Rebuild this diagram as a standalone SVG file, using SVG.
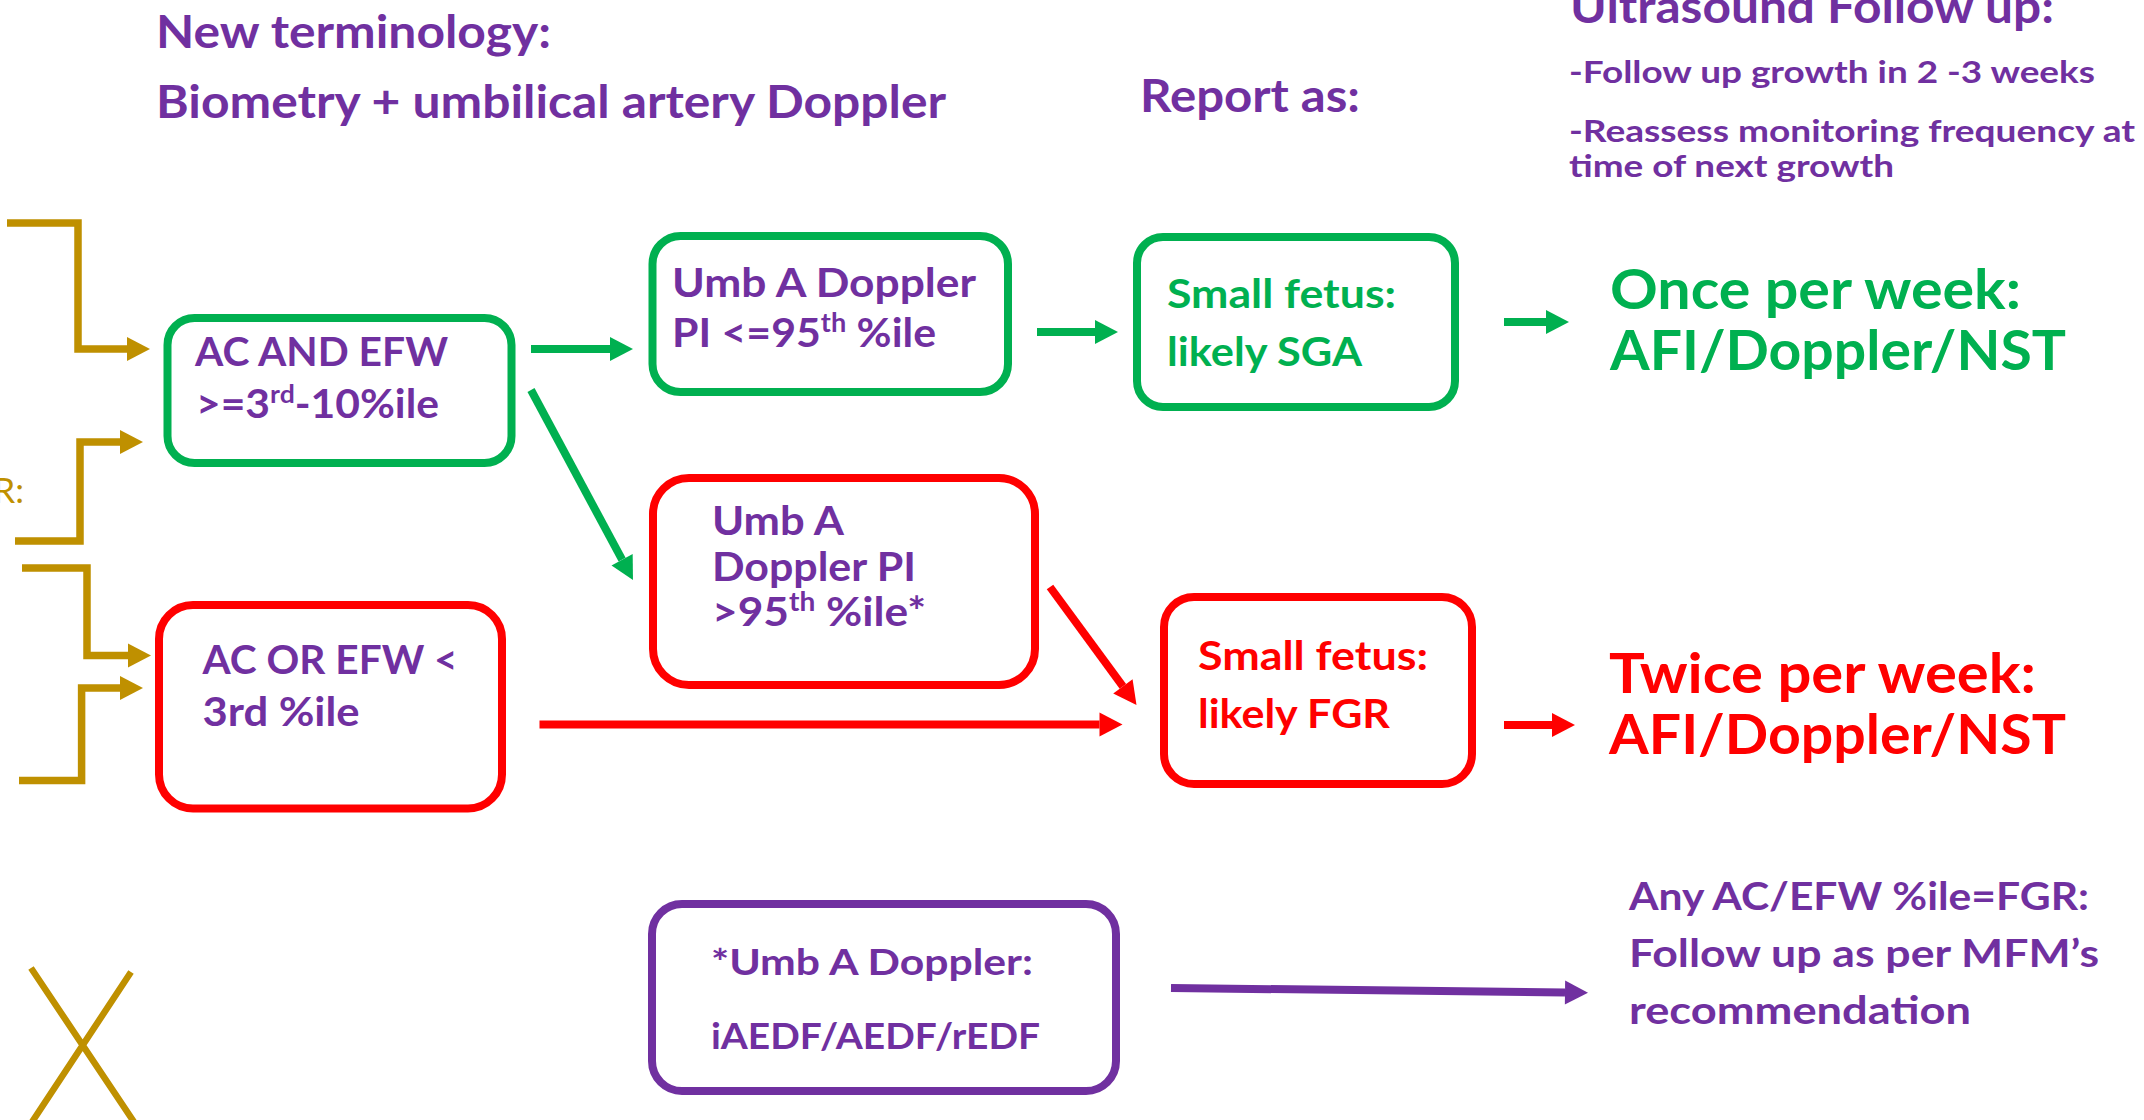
<svg xmlns="http://www.w3.org/2000/svg" width="2144" height="1120" viewBox="0 0 2144 1120">
<defs>
<style>
text{font-family:Lato,"Open Sans","Liberation Sans",sans-serif;font-weight:700}
.p{fill:#7030A0}.g{fill:#00B050}.r{fill:#FF0000}
.box{fill:#fff;stroke-width:8}
.bg{stroke:#00B050}.br{stroke:#FF0000}.bp{stroke:#7030A0}
.ln{fill:none;stroke-width:8}
.gold{fill:none;stroke:#BF9000;stroke-width:7.5;stroke-linejoin:miter}
</style>
<marker id="ag" markerUnits="userSpaceOnUse" markerWidth="24" markerHeight="24" refX="0" refY="12" orient="auto" overflow="visible"><path d="M0,0 L23,12 L0,24 Z" fill="#00B050"/></marker>
<marker id="ar" markerUnits="userSpaceOnUse" markerWidth="24" markerHeight="24" refX="0" refY="12" orient="auto" overflow="visible"><path d="M0,0 L23,12 L0,24 Z" fill="#FF0000"/></marker>
<marker id="ap" markerUnits="userSpaceOnUse" markerWidth="24" markerHeight="24" refX="0" refY="12" orient="auto" overflow="visible"><path d="M0,0 L23,12 L0,24 Z" fill="#7030A0"/></marker>
<marker id="ay" markerUnits="userSpaceOnUse" markerWidth="24" markerHeight="24" refX="0" refY="12" orient="auto" overflow="visible"><path d="M0,0 L23,12 L0,24 Z" fill="#BF9000"/></marker>
</defs>
<rect width="2144" height="1120" fill="#fff"/>

<g id="headers">
<text class="p" x="156" y="48" font-size="46" textLength="395" lengthAdjust="spacingAndGlyphs">New terminology:</text>
<text class="p" x="156" y="118" font-size="46" textLength="790" lengthAdjust="spacingAndGlyphs">Biometry + umbilical artery Doppler</text>
<text class="p" x="1140" y="112" font-size="46" textLength="220" lengthAdjust="spacingAndGlyphs">Report as:</text>
<text class="p" x="1570" y="23" font-size="46" textLength="484" lengthAdjust="spacingAndGlyphs">Ultrasound Follow up:</text>
<text class="p" x="1569" y="83" font-size="30" textLength="526" lengthAdjust="spacingAndGlyphs">-Follow up growth in 2 -3 weeks</text>
<text class="p" x="1569" y="142" font-size="30" textLength="566" lengthAdjust="spacingAndGlyphs">-Reassess monitoring frequency at</text>
<text class="p" x="1569" y="177" font-size="30" textLength="325" lengthAdjust="spacingAndGlyphs">time of next growth</text>
</g>

<g id="inputs">
<path class="gold" d="M7,223 H78 V349 H127" marker-end="url(#ay)"/>
<path class="gold" d="M15,541 H80 V442 H120" marker-end="url(#ay)"/>
<path class="gold" d="M22,568 H87 V655.5 H128" marker-end="url(#ay)"/>
<path class="gold" d="M19,780.5 H81.6 V688 H120" marker-end="url(#ay)"/>
<text x="24" y="503" font-size="35" font-weight="400" fill="#BF9000" text-anchor="end" style="font-weight:400">R:</text>
<path d="M31,968 L134,1122 M131,972 L32,1122" stroke="#BF9000" stroke-width="6.5" fill="none"/>
</g>

<g id="node-ac-and-efw">
<rect class="box bg" x="167.5" y="318" width="344" height="145" rx="27"/>
<text class="p" x="195" y="366" font-size="40" textLength="253" lengthAdjust="spacingAndGlyphs">AC AND EFW</text>
<text class="p" x="196" y="418" font-size="40" textLength="243" lengthAdjust="spacingAndGlyphs">&gt;=3<tspan font-size="25" dy="-15">rd</tspan><tspan dy="15">-10%ile</tspan></text>
</g>

<g id="node-ac-or-efw">
<rect class="box br" x="159" y="605" width="343" height="203.5" rx="34"/>
<text class="p" x="202.5" y="674" font-size="40" textLength="255" lengthAdjust="spacingAndGlyphs">AC OR EFW &lt;</text>
<text class="p" x="202.5" y="726" font-size="40" textLength="157" lengthAdjust="spacingAndGlyphs">3rd %ile</text>
</g>

<g id="node-doppler-normal">
<rect class="box bg" x="652.5" y="236" width="355.5" height="156" rx="28"/>
<text class="p" x="672" y="297" font-size="41" textLength="304" lengthAdjust="spacingAndGlyphs">Umb A Doppler</text>
<text class="p" x="672" y="347" font-size="41" textLength="264" lengthAdjust="spacingAndGlyphs">PI &lt;=95<tspan font-size="26" dy="-15">th</tspan><tspan dy="15"> %ile</tspan></text>
</g>

<g id="node-sga">
<rect class="box bg" x="1137" y="237" width="318" height="170" rx="26"/>
<text class="g" x="1167" y="308" font-size="41" textLength="229" lengthAdjust="spacingAndGlyphs">Small fetus:</text>
<text class="g" x="1167" y="366" font-size="41" textLength="195" lengthAdjust="spacingAndGlyphs">likely SGA</text>
</g>

<g id="node-doppler-abnormal">
<rect class="box br" x="653" y="478" width="382" height="207" rx="36"/>
<text class="p" x="712" y="535" font-size="41" textLength="132" lengthAdjust="spacingAndGlyphs">Umb A</text>
<text class="p" x="712" y="581" font-size="41" textLength="204" lengthAdjust="spacingAndGlyphs">Doppler PI</text>
<text class="p" x="712" y="626" font-size="41" textLength="214" lengthAdjust="spacingAndGlyphs">&gt;95<tspan font-size="26" dy="-15">th</tspan><tspan dy="15"> %ile*</tspan></text>
</g>

<g id="node-fgr">
<rect class="box br" x="1164" y="597" width="308" height="187" rx="30"/>
<text class="r" x="1198" y="670" font-size="41" textLength="230" lengthAdjust="spacingAndGlyphs">Small fetus:</text>
<text class="r" x="1198" y="728" font-size="41" textLength="192" lengthAdjust="spacingAndGlyphs">likely FGR</text>
</g>

<g id="node-once">
<text class="g" x="1610" y="309" font-size="55" textLength="411" lengthAdjust="spacingAndGlyphs">Once per week:</text>
<text class="g" x="1610" y="370" font-size="55" textLength="456" lengthAdjust="spacingAndGlyphs">AFI/Doppler/NST</text>
</g>

<g id="node-twice">
<text class="r" x="1609" y="693" font-size="55" textLength="427" lengthAdjust="spacingAndGlyphs">Twice per week:</text>
<text class="r" x="1609" y="754" font-size="55" textLength="457" lengthAdjust="spacingAndGlyphs">AFI/Doppler/NST</text>
</g>

<g id="node-edf">
<rect class="box bp" x="652" y="904" width="464" height="187" rx="30"/>
<text class="p" x="711" y="975" font-size="37" textLength="322" lengthAdjust="spacingAndGlyphs">*Umb A Doppler:</text>
<text class="p" x="711" y="1049" font-size="37" textLength="329" lengthAdjust="spacingAndGlyphs">iAEDF/AEDF/rEDF</text>
</g>

<g id="node-mfm">
<text class="p" x="1629" y="910" font-size="39" textLength="460" lengthAdjust="spacingAndGlyphs">Any AC/EFW %ile=FGR:</text>
<text class="p" x="1629" y="967" font-size="39" textLength="470" lengthAdjust="spacingAndGlyphs">Follow up as per MFM’s</text>
<text class="p" x="1629" y="1024" font-size="39" textLength="342" lengthAdjust="spacingAndGlyphs">recommendation</text>
</g>

<g id="connectors">
<path class="ln" stroke="#00B050" d="M531,349 H610" marker-end="url(#ag)"/>
<path class="ln" stroke="#00B050" d="M531,390 L622.1,559.7" marker-end="url(#ag)"/>
<path class="ln" stroke="#00B050" d="M1037,332 H1095" marker-end="url(#ag)"/>
<path class="ln" stroke="#00B050" d="M1504,322 H1546" marker-end="url(#ag)"/>
<path class="ln" stroke="#FF0000" d="M1050,587 L1122.9,686.4" marker-end="url(#ar)"/>
<path class="ln" stroke="#FF0000" d="M539.5,724.5 H1099.5" marker-end="url(#ar)"/>
<path class="ln" stroke="#FF0000" d="M1504,725 H1552" marker-end="url(#ar)"/>
<path class="ln" stroke="#7030A0" d="M1171,988 L1565,992.4" marker-end="url(#ap)"/>
</g>
</svg>
